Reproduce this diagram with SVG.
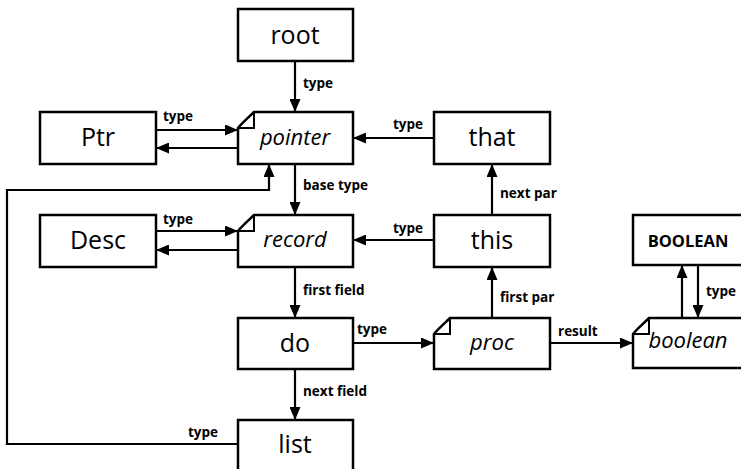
<svg xmlns="http://www.w3.org/2000/svg" width="741" height="469" viewBox="0 0 741 469">
<defs>
<style>
.box{fill:#fff;stroke:#000;stroke-width:2.5}
.fold{fill:none;stroke:#000;stroke-width:2}
.big{font-family:"Open Sans","Liberation Sans",sans-serif;font-size:25px;text-anchor:middle;fill:#000}
.it{font-style:italic;font-size:22px}
.cap{font-size:16.5px;font-weight:bold}
.lbl{font-family:"Open Sans","Liberation Sans",sans-serif;font-size:13.5px;font-weight:bold;fill:#000}
.edge{fill:none;stroke:#000;stroke-width:2.2;marker-end:url(#a)}
</style>
<marker id="a" markerWidth="13" markerHeight="11" refX="13" refY="5.5" orient="auto" markerUnits="userSpaceOnUse"><path d="M0,0 L13,5.5 L0,11 Z" fill="#000"/></marker>
</defs>
<rect width="741" height="469" fill="#fff"/>
<g id="connectors">
<path class="edge" d="M295,61 V112"/>
<path class="edge" d="M156,130 H238"/>
<path class="edge" d="M238,148 H156"/>
<path class="edge" d="M434,138 H353"/>
<path class="edge" d="M295,164 V215"/>
<path class="edge" d="M238,444 H7 V190 H269 V164"/>
<path class="edge" d="M156,231 H238"/>
<path class="edge" d="M238,250 H156"/>
<path class="edge" d="M434,240 H353"/>
<path class="edge" d="M295,267 V318"/>
<path class="edge" d="M295,369 V420"/>
<path class="edge" d="M353,343 H434"/>
<path class="edge" d="M492,318 V267"/>
<path class="edge" d="M492,215 V164"/>
<path class="edge" d="M550,343 H633"/>
<path class="edge" d="M682,318 V265"/>
<path class="edge" d="M698,265 V318"/>
<text class="lbl" x="303" y="88">type</text>
<text class="lbl" x="163" y="121">type</text>
<text class="lbl" x="393" y="129">type</text>
<text class="lbl" x="303" y="190">base type</text>
<text class="lbl" x="500" y="198">next par</text>
<text class="lbl" x="163" y="224">type</text>
<text class="lbl" x="393" y="233">type</text>
<text class="lbl" x="303" y="295">first field</text>
<text class="lbl" x="500" y="302">first par</text>
<text class="lbl" x="706" y="296">type</text>
<text class="lbl" x="357" y="334">type</text>
<text class="lbl" x="558" y="336">result</text>
<text class="lbl" x="303" y="396">next field</text>
<text class="lbl" x="188" y="437">type</text>
</g>
<g id="root"><rect class="box" x="238" y="9" width="115" height="52"/><text class="big" x="295" y="44">root</text></g>
<g id="pointer"><path class="box" d="M254,112 H353 V164 H238 V128 C242,123 249,117 254,112 Z"/><path class="fold" d="M254,112 V128 H238"/><text class="big it" x="295" y="145">pointer</text></g>
<g id="Ptr"><rect class="box" x="40" y="112" width="116" height="52"/><text class="big" x="98" y="146">Ptr</text></g>
<g id="that"><rect class="box" x="434" y="112" width="116" height="52"/><text class="big" x="492" y="146">that</text></g>
<g id="Desc"><rect class="box" x="40" y="215" width="116" height="52"/><text class="big" x="98" y="249">Desc</text></g>
<g id="record"><path class="box" d="M254,215 H353 V267 H238 V231 C242,226 249,220 254,215 Z"/><path class="fold" d="M254,215 V231 H238"/><text class="big it" x="295" y="247">record</text></g>
<g id="this"><rect class="box" x="434" y="215" width="116" height="52"/><text class="big" x="492" y="249">this</text></g>
<g id="BOOLEAN"><rect class="box" x="633" y="215" width="130" height="50"/><text class="big cap" x="688" y="247">BOOLEAN</text></g>
<g id="do"><rect class="box" x="238" y="318" width="115" height="51"/><text class="big" x="295" y="352">do</text></g>
<g id="proc"><path class="box" d="M450,318 H550 V369 H434 V334 C438,329 445,323 450,318 Z"/><path class="fold" d="M450,318 V334 H434"/><text class="big it" x="492" y="350">proc</text></g>
<g id="boolean"><path class="box" d="M649,318 H763 V368 H633 V334 C637,329 644,323 649,318 Z"/><path class="fold" d="M649,318 V334 H633"/><text class="big it" x="688" y="348">boolean</text></g>
<g id="list"><rect class="box" x="238" y="420" width="115" height="55"/><text class="big" x="295" y="453">list</text></g>
</svg>
